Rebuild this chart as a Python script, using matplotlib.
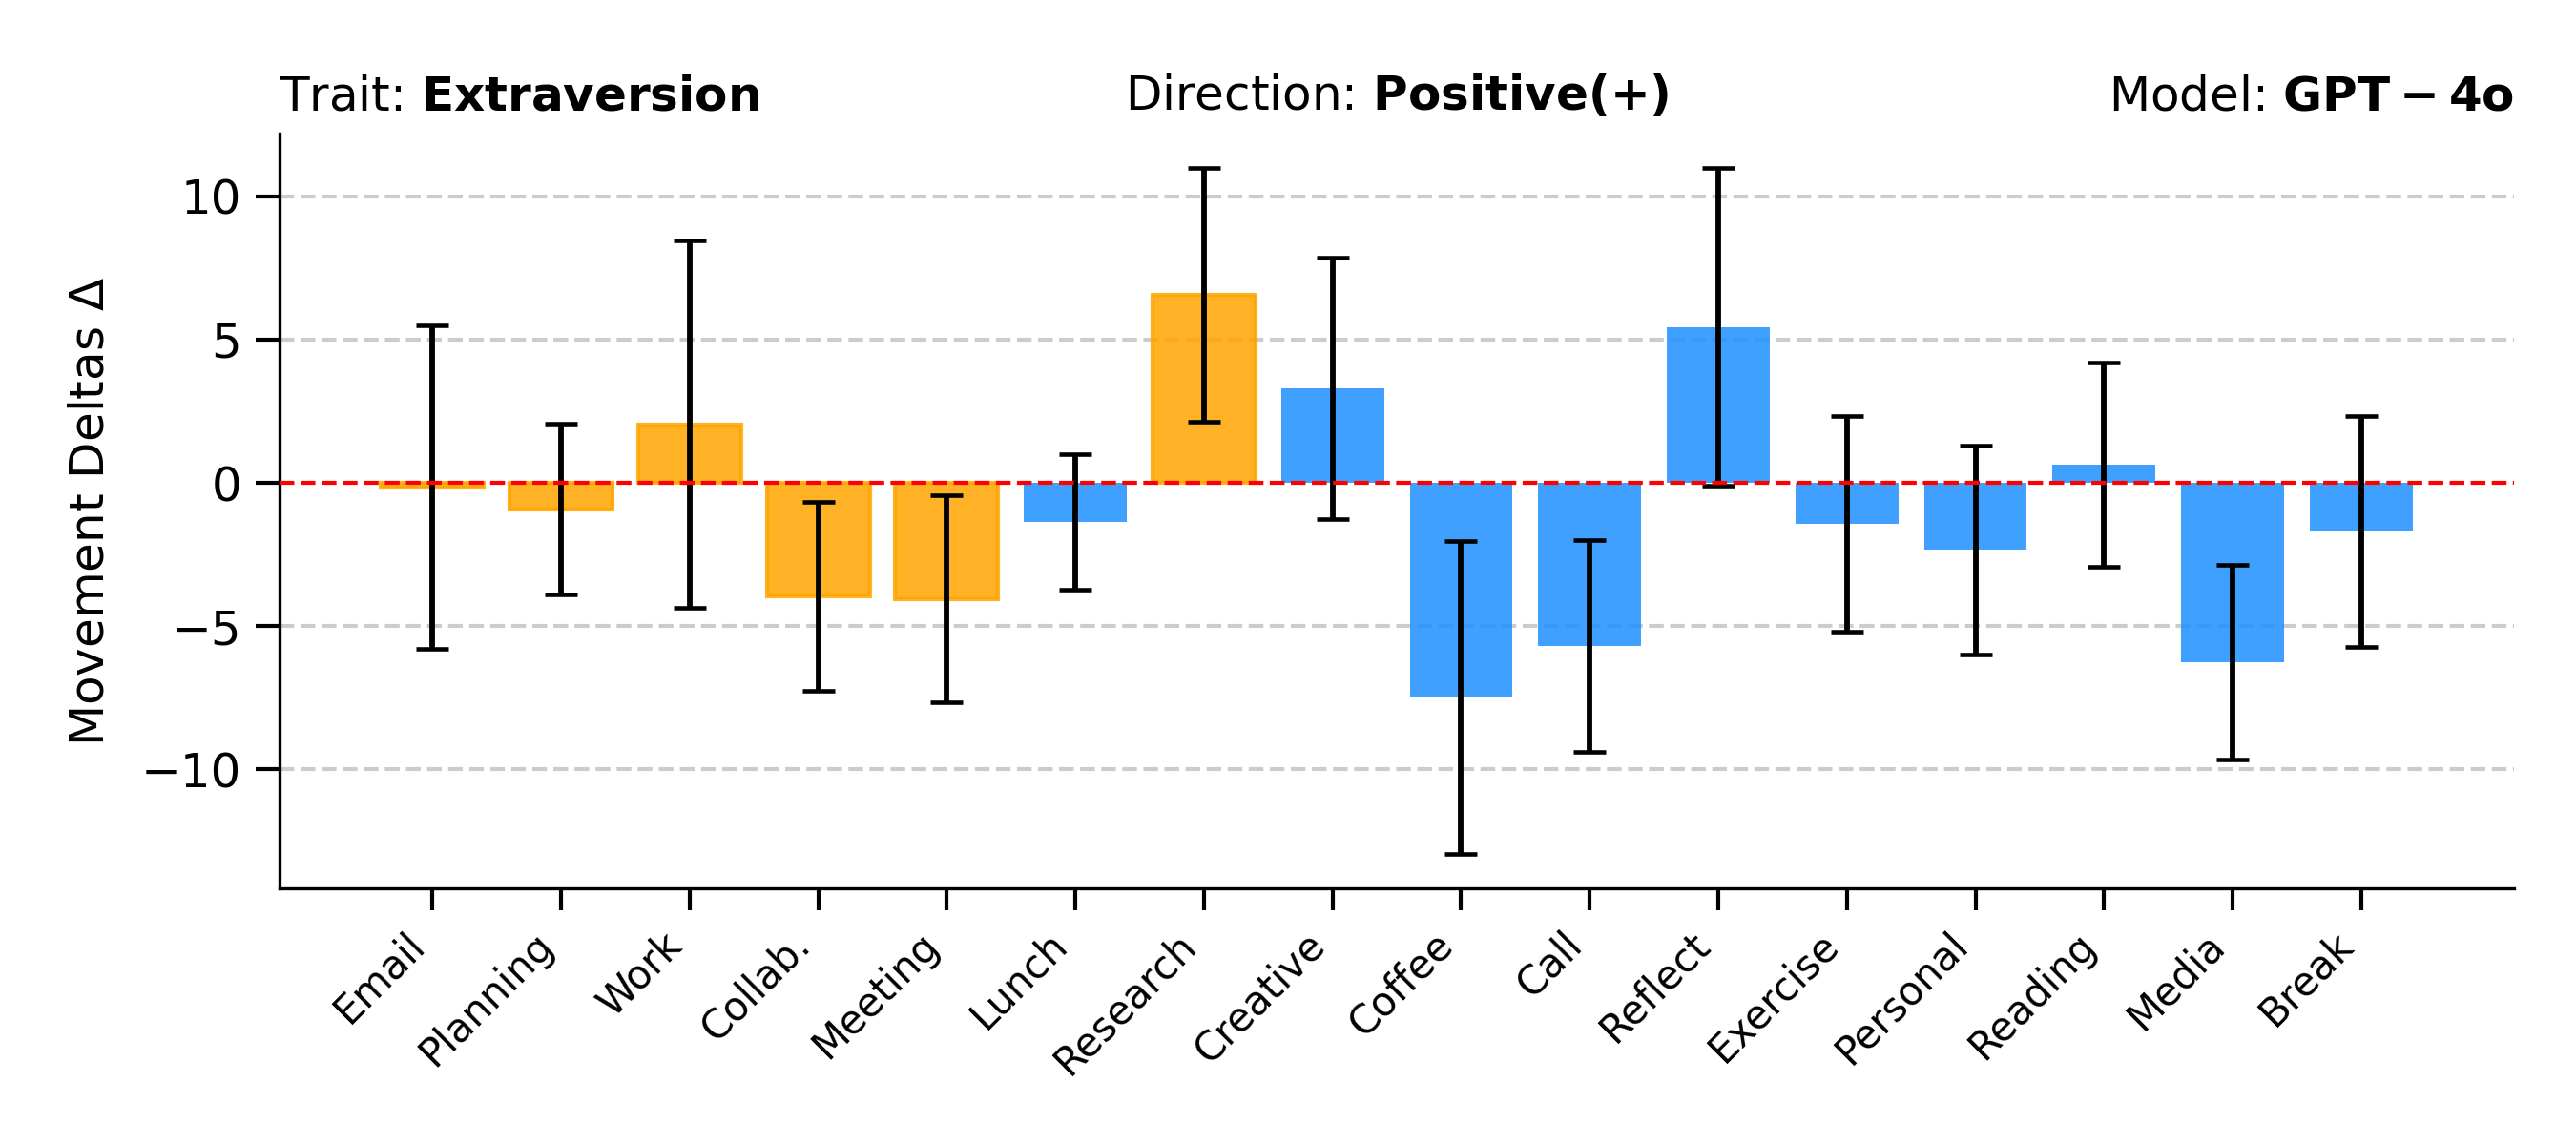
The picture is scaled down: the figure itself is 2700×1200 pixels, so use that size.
import numpy as np
import matplotlib.pyplot as plt

# --- data ---
activities = ["Email", "Planning", "Work", "Collab.", "Meeting", "Lunch", "Research", "Creative",
              "Coffee", "Call", "Reflect", "Exercise", "Personal", "Reading", "Media", "Break"]
deltas = [-0.15, -0.92, 2.05, -3.95, -4.05, -1.36, 6.55, 3.3,
          -7.49, -5.69, 5.44, -1.43, -2.34, 0.63, -6.26, -1.71]
errors = [5.65, 2.98, 6.4, 3.3, 3.62, 2.36, 4.43, 4.57,
          5.47, 3.7, 5.54, 3.76, 3.65, 3.57, 3.41, 4.03]
highlighted = ["Email", "Planning", "Work", "Collab.", "Meeting", "Research"]

trait = "Extraversion"
direction = "Positive(+)"
model = "GPT-4o"

# --- plot ---
fig, ax = plt.subplots(figsize=(9, 4), dpi=300)
fig.subplots_adjust(left=0.1085, right=0.976, top=0.883, bottom=0.224)

x = np.arange(len(activities))
for i, name in enumerate(activities):
    if name in highlighted:
        ax.bar(x[i], deltas[i], width=0.8, color="orange", alpha=0.85,
               edgecolor="orange", linewidth=1, zorder=2)
    else:
        ax.bar(x[i], deltas[i], width=0.8, color="dodgerblue", alpha=0.85,
               linewidth=0, zorder=2)

ax.errorbar(x, deltas, yerr=errors, fmt="none", ecolor="black",
            elinewidth=1.4, capsize=4, capthick=1.1, zorder=3)

ax.axhline(0, color="red", linestyle="--", linewidth=1, zorder=4)
ax.yaxis.grid(True, linestyle="--", color="gray", alpha=0.4, linewidth=1, zorder=0)
ax.set_axisbelow(True)

ax.set_xticks(x)
ax.set_xticklabels(activities, rotation=45, ha="right", fontsize=10)
ax.tick_params(axis="y", labelsize=12, length=6, width=1)
ax.tick_params(axis="x", length=5.5, width=1)
ax.set_ylabel("Movement Deltas $\\Delta$", fontsize=12, labelpad=7)

ax.spines["top"].set_visible(False)
ax.spines["right"].set_visible(False)

ax.set_title(f"Trait: $\\bf{{{trait}}}$", loc="left", fontsize=12)
ax.set_title(f"Direction: $\\bf{{{direction}}}$", loc="center", fontsize=12)
ax.set_title(f"Model: $\\bf{{{model}}}$", loc="right", fontsize=12)

fig.savefig("out.png", dpi=300)
